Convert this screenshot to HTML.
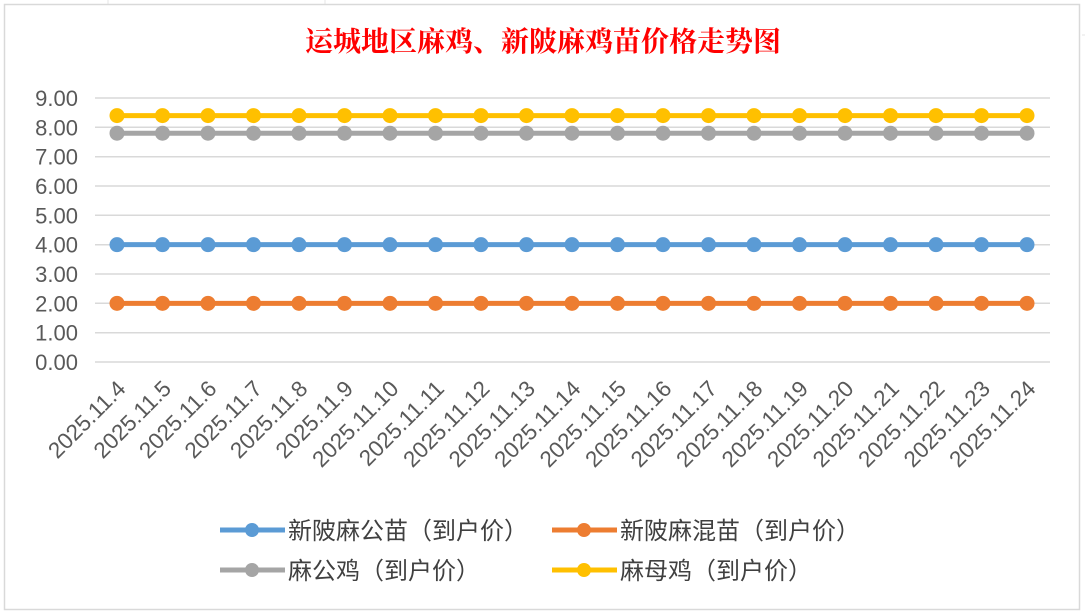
<!DOCTYPE html>
<html><head><meta charset="utf-8"><style>
body{margin:0;background:#fff;}
svg{display:block;font-family:"Liberation Sans","Noto Sans CJK SC",sans-serif;}
</style></head><body>
<svg width="1085" height="616" xmlns="http://www.w3.org/2000/svg">
<rect x="0" y="0" width="1085" height="616" fill="#fff"/>
<g stroke="#e4e4e4" stroke-width="1">
<line x1="108" y1="0" x2="108" y2="4"/><line x1="325" y1="0" x2="325" y2="4"/><line x1="1082" y1="35" x2="1085" y2="35"/>
</g>
<rect x="4.5" y="4.5" width="1075" height="605" fill="#fff" stroke="#d9d9d9" stroke-width="1.5"/>
<text x="543" y="51" text-anchor="middle" font-size="28" font-weight="bold" fill="#ff0000" font-family="'Noto Serif CJK SC','Liberation Serif',serif">运城地区麻鸡、新陂麻鸡苗价格走势图</text>
<g stroke="#d9d9d9" stroke-width="1.5">
<line x1="95" y1="98" x2="1050" y2="98"/><line x1="95" y1="127.3" x2="1050" y2="127.3"/><line x1="95" y1="156.7" x2="1050" y2="156.7"/><line x1="95" y1="186" x2="1050" y2="186"/><line x1="95" y1="215.3" x2="1050" y2="215.3"/><line x1="95" y1="244.7" x2="1050" y2="244.7"/><line x1="95" y1="274" x2="1050" y2="274"/><line x1="95" y1="303.3" x2="1050" y2="303.3"/><line x1="95" y1="332.7" x2="1050" y2="332.7"/><line x1="95" y1="362" x2="1050" y2="362"/>
</g>
<g font-size="22" fill="#595959" text-anchor="end">
<text x="78" y="106">9.00</text><text x="78" y="135.3">8.00</text><text x="78" y="164.7">7.00</text><text x="78" y="194">6.00</text><text x="78" y="223.3">5.00</text><text x="78" y="252.7">4.00</text><text x="78" y="282">3.00</text><text x="78" y="311.3">2.00</text><text x="78" y="340.7">1.00</text><text x="78" y="370">0.00</text>
</g>
<g id="series"></g>
<g id="labels" font-size="22.5" fill="#595959"></g>
<g font-size="24" fill="#404040">
<line x1="220" y1="530" x2="285" y2="530" stroke="#5b9bd5" stroke-width="5"/><circle cx="252" cy="530" r="7" fill="#5b9bd5"/>
<text x="288" y="539">新陂麻公苗（到户价）</text>
<line x1="552" y1="530" x2="617" y2="530" stroke="#ed7d31" stroke-width="5"/><circle cx="584" cy="530" r="7" fill="#ed7d31"/>
<text x="620" y="539">新陂麻混苗（到户价）</text>
<line x1="220" y1="570" x2="285" y2="570" stroke="#a5a5a5" stroke-width="5"/><circle cx="252" cy="570" r="7" fill="#a5a5a5"/>
<text x="288" y="579">麻公鸡（到户价）</text>
<line x1="552" y1="570" x2="617" y2="570" stroke="#ffc000" stroke-width="5"/><circle cx="584" cy="570" r="7" fill="#ffc000"/>
<text x="620" y="579">麻母鸡（到户价）</text>
</g>
</svg>
<script>
var ns="http://www.w3.org/2000/svg",g=document.getElementById("series"),lb=document.getElementById("labels");
var S=[[8.4,"#ffc000"],[7.8,"#a5a5a5"],[4.0,"#5b9bd5"],[2.0,"#ed7d31"]];
S.forEach(function(s){var y=362-s[0]*29.333;
var l=document.createElementNS(ns,"line");l.setAttribute("x1",117);l.setAttribute("x2",1027);l.setAttribute("y1",y);l.setAttribute("y2",y);l.setAttribute("stroke",s[1]);l.setAttribute("stroke-width",5);g.appendChild(l);
for(var i=0;i<21;i++){var c=document.createElementNS(ns,"circle");c.setAttribute("cx",117+i*45.5);c.setAttribute("cy",y);c.setAttribute("r",7.5);c.setAttribute("fill",s[1]);g.appendChild(c);}});
for(var i=0;i<21;i++){var x=117+i*45.5+10,t=document.createElementNS(ns,"text");t.setAttribute("x",x);t.setAttribute("y",390);t.setAttribute("text-anchor","end");t.setAttribute("transform","rotate(-45 "+x+" 390)");t.textContent="2025.11."+(4+i);lb.appendChild(t);}
</script>
</body></html>
